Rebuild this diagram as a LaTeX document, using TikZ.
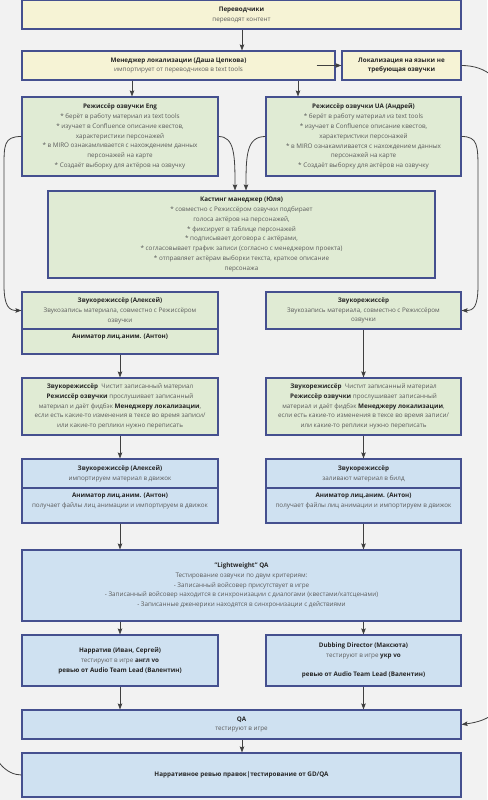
\documentclass[tikz,border=0pt]{standalone}
\usepackage{fontspec}
\setmainfont{Open Sans}
\usetikzlibrary{arrows.meta}
\definecolor{bgc}{HTML}{F2F2F2}
\definecolor{yelc}{HTML}{F6F3D5}
\definecolor{grnc}{HTML}{E0EBD4}
\definecolor{bluc}{HTML}{CFE1F1}
\definecolor{bordc}{HTML}{45508F}
\definecolor{titc}{HTML}{262626}
\definecolor{bodc}{HTML}{5A5A5A}
\definecolor{arrc}{HTML}{404040}
\newcommand\hd[1]{{\bfseries\color{titc}#1}}
\begin{document}
\begin{tikzpicture}[x=1pt,y=-1pt,
  box/.style={draw=bordc,line width=1.1pt,inner sep=0pt,align=center,text=bodc,
    font=\fontsize{6.3}{9.8}\selectfont},
  ybox/.style={box,fill=yelc},
  gbox/.style={box,fill=grnc},
  bbox/.style={box,fill=bluc},
  wide/.style={minimum width=439pt},
  col/.style={minimum width=196pt},
  arr/.style={draw=arrc,line width=0.8pt,-{Stealth[length=6pt,width=4.5pt,inset=1pt]}},
  lnk/.style={draw=arrc,line width=0.8pt}]
\fill[bgc] (0,0) rectangle (487,800);
\useasboundingbox (0,0) rectangle (487,800);

\node[ybox,wide,minimum height=28.5pt] (tr) at (241.5,14.75) {\hd{Переводчики}\\переводят контент};
\node[ybox,minimum width=313pt,minimum height=29pt] (mgr) at (178.5,65.5) {\hd{Менеджер локализации (Даша Цепкова)}\\импортирует от переводчиков в text tools};
\node[ybox,minimum width=119pt,minimum height=29pt] (loc) at (401.5,65.5) {\hd{Локализация на языки не}\\\hd{требующая озвучки}};

\node[gbox,col,minimum height=79pt] (eng) at (120,136.5) {\hd{Режиссёр озвучки Eng}\\* берёт в работу материал из text tools\\* изучает в Confluence описание квестов,\\характеристики персонажей\\* в MIRO ознакамливается с нахождением данных\\персонажей на карте\\* Создаёт выборку для актёров на озвучку};
\node[gbox,minimum width=195pt,minimum height=79pt] (ua) at (363.5,136.5) {\hd{Режиссёр озвучки UA (Андрей)}\\* берёт в работу материал из text tools\\* изучает в Confluence описание квестов,\\характеристики персонажей\\* в MIRO ознакамливается с нахождением данных\\персонажей на карте\\* Создаёт выборку для актёров на озвучку};

\node[gbox,minimum width=387pt,minimum height=87pt] (cast) at (241.5,234.5) {\hd{Кастинг манеджер (Юля)}\\* совместно с Режиссёром озвучки подбирает\\голоса актёров на персонажей,\\* фиксирует в таблице персонажей\\* подписывает договора с актёрами,\\* согласовывает график записи (согласно с менеджером проекта)\\* отправляет актёрам выборки текста, краткое описание\\персонажа};

\node[gbox,col,minimum height=37pt] (snd1) at (120,310.5) {\hd{Звукорежиссёр (Алексей)}\\Звукозапись материала, совместно с Режиссёром\\озвучки};
\node[gbox,col,minimum height=25pt] (anim1) at (120,341.5) {\hd{Аниматор лиц.аним. (Антон)}\\~};
\node[gbox,minimum width=195pt,minimum height=37pt] (snd2) at (363.5,310.5) {\hd{Звукорежиссёр}\\Звукозапись материала, совместно с Режиссёром\\озвучки};

\node[gbox,col,minimum height=57pt] (fb1) at (120,406.5) {\hd{Звукорежиссёр}\ \ Чистит записанный материал\\\hd{Режиссёр озвучки} прослушивает записанный\\материал и даёт фидбэк \hd{Менеджеру локализации},\\если есть какие-то изменения в тексе во время записи/\\или какие-то реплики нужно переписать};
\node[gbox,minimum width=195pt,minimum height=57pt] (fb2) at (363.5,406.5) {\hd{Звукорежиссёр}\ \ Чистит записанный материал\\\hd{Режиссёр озвучки} прослушивает записанный\\материал и даёт фидбэк \hd{Менеджеру локализации},\\если есть какие-то изменения в тексе во время записи/\\или какие-то реплики нужно переписать};

\node[bbox,col,minimum height=29pt] (imp1) at (120,473.5) {\hd{Звукорежиссёр (Алексей)}\\импортируем материал в движок};
\node[bbox,col,minimum height=35pt] (fa1) at (120,505.5) {\hd{Аниматор лиц.аним. (Антон)}\\получает файлы лиц анимации и импортируем в движок\\~};
\node[bbox,minimum width=195pt,minimum height=29pt] (imp2) at (363.5,473.5) {\hd{Звукорежиссёр}\\заливают материал в билд};
\node[bbox,minimum width=195pt,minimum height=35pt] (fa2) at (363.5,505.5) {\hd{Аниматор лиц.аним. (Антон)}\\получает файлы лиц анимации и импортируем в движок\\~};

\node[bbox,wide,minimum height=71pt] (lqa) at (241.5,585.5) {\hd{"Lightweight" QA}\\Тестирование озвучки по двум критериям:\\- Записанный войсовер присутствует в игре\\- Записанный войсовер находится в синхронизации с диалогами (квестами/катсценами)\\- Записанные дженерики находятся в синхронизации с действиями};

\node[bbox,col,minimum height=51pt] (nar) at (120,660.5) {\hd{Нарратив (Иван, Сергей)}\\тестируют в игре \hd{англ vo}\\\hd{ревью от Audio Team Lead (Валентин)}};
\node[bbox,minimum width=195pt,minimum height=51pt] (dub) at (363.5,660.5) {\hd{Dubbing Director (Максюта)}\\тестируют в игре \hd{укр vo}\\~\\\hd{ревью от Audio Team Lead (Валентин)}};

\node[bbox,wide,minimum height=29pt] (qa) at (241.5,724.5) {\hd{QA}\\тестируют в игре};
\node[bbox,wide,minimum height=44pt] (rev) at (241.5,775) {\hd{Нарративное ревью правок|тестирование от GD/QA}};

\coordinate (back) at (-20,600);

% straight arrows
\draw[arr] ([xshift=0.5pt]tr.south) -- ([xshift=63.5pt]mgr.north);
\draw[arr] ([xshift=-46.5pt]mgr.south) -- ([xshift=12pt]eng.north);
\draw[arr] ([xshift=119.5pt]mgr.south) -- ([xshift=-65.5pt]ua.north);
\draw[arr] ([xshift=-19pt]mgr.east) -- (loc.west);
\draw[arr] (anim1.south) -- (fb1.north);
\draw[arr] (snd2.south) -- (fb2.north);
\draw[arr] (fb1.south) -- (imp1.north);
\draw[arr] (fb2.south) -- (imp2.north);
\draw[arr] (fa1.south) -- ([xshift=-121.5pt]lqa.north);
\draw[arr] (fa2.south) -- ([xshift=122pt]lqa.north);
\draw[arr] ([xshift=-121.5pt]lqa.south) -- (nar.north);
\draw[arr] ([xshift=122pt]lqa.south) -- (dub.north);
\draw[arr] (nar.south) -- ([xshift=-121.5pt]qa.north);
\draw[arr] (dub.south) -- ([xshift=122pt]qa.north);
\draw[arr] ([xshift=0.5pt]qa.south) -- ([xshift=0.5pt]rev.north);

% curved arrows
\draw[arr] (eng.east) .. controls +(16,0) and +(0,-35) .. ([xshift=-6.5pt]cast.north);
\draw[arr] (ua.west) .. controls +(-19,0) and +(0,-35) .. ([xshift=4.5pt]cast.north);
\draw[arr] (eng.west) .. controls +(-18,0) and +(0,-25) .. (4,170) -- (4,285) .. controls +(0,22) and +(-12,0) .. (snd1.west);
\draw[arr] (ua.east) .. controls +(16,0) and +(0,-25) .. (478,170) -- (478,285) .. controls +(0,22) and +(12,0) .. (snd2.east);
\draw[arr] (loc.east) .. controls +(25,0) and +(0,-30) .. (505,110) -- (505,680) .. controls +(0,30) and +(30,-4) .. (qa.east);
\draw[lnk] (rev.west) .. controls +(-15,0) and +(0,20) .. (-8,740) -- (back);
\end{tikzpicture}
\end{document}
